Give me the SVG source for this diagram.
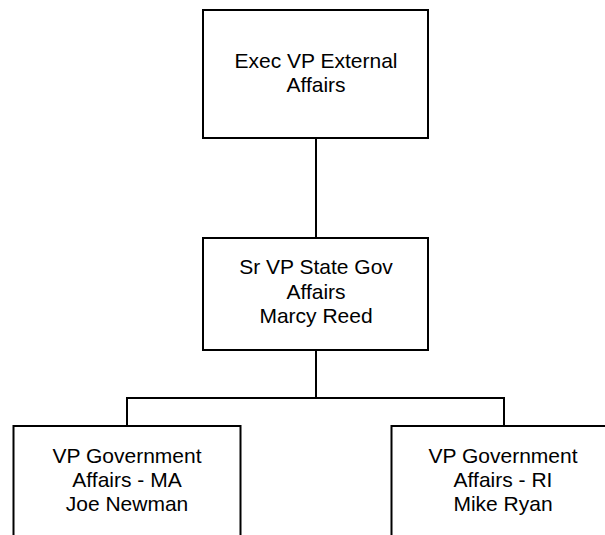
<svg xmlns="http://www.w3.org/2000/svg" width="605" height="535" viewBox="0 0 605 535">
<style>
.box{fill:#fff;stroke:#000;stroke-width:2}
.conn{fill:none;stroke:#000;stroke-width:2}
text{font-family:"Liberation Sans",Arial,sans-serif;font-size:21px;fill:#000;text-anchor:middle}
</style>
<rect width="605" height="535" fill="#fff"/>
<g id="connectors">
<line class="conn" x1="316" y1="138" x2="316" y2="238"/>
<line class="conn" x1="316" y1="350" x2="316" y2="398"/>
<polyline class="conn" points="127,426 127,398 504,398 504,426"/>
</g>
<g id="exec-vp">
<rect class="box" x="203" y="10" width="225" height="128"/>
<text x="316" y="67.5">Exec VP External</text>
<text x="316" y="92">Affairs</text>
</g>
<g id="sr-vp">
<rect class="box" x="203" y="238" width="225" height="112"/>
<text x="316" y="274">Sr VP State Gov</text>
<text x="316" y="298.5">Affairs</text>
<text x="316" y="323">Marcy Reed</text>
</g>
<g id="vp-ma">
<rect class="box" x="13.5" y="426" width="227" height="130"/>
<text x="127" y="462.5">VP Government</text>
<text x="127" y="487">Affairs - MA</text>
<text x="127" y="511">Joe Newman</text>
</g>
<g id="vp-ri">
<rect class="box" x="391.5" y="426" width="226" height="130"/>
<text x="503" y="462.5">VP Government</text>
<text x="503" y="487">Affairs - RI</text>
<text x="503" y="511">Mike Ryan</text>
</g>
</svg>
